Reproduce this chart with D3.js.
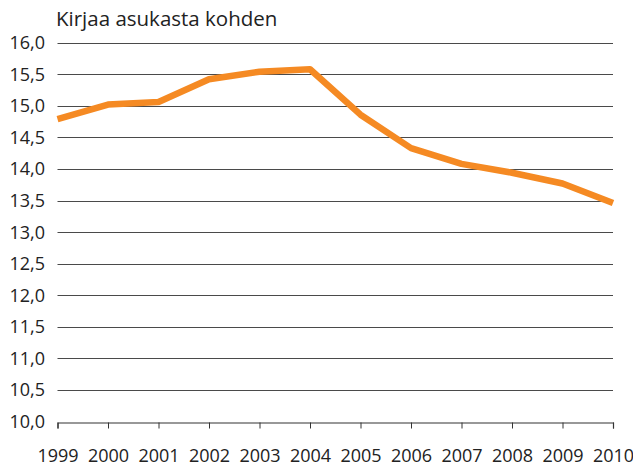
<!doctype html>
<html>
<head>
<meta charset="UTF-8">
<title>Kirjaa asukasta kohden</title>
<script src="https://d3js.org/d3.v7.min.js"></script>
<style>
  body { margin: 0; background: #fff; }
  text { font-family: "Open Sans", "Noto Sans", sans-serif; fill: #222; }
</style>
</head>
<body>
<svg id="chart" width="633" height="469"></svg>
<script>
var years = [1999, 2000, 2001, 2002, 2003, 2004, 2005, 2006, 2007, 2008, 2009, 2010];
var values = [14.79, 15.02, 15.06, 15.42, 15.54, 15.58, 14.86, 14.33, 14.08, 13.94, 13.77, 13.46];
var yTicks = [10, 10.5, 11, 11.5, 12, 12.5, 13, 13.5, 14, 14.5, 15, 15.5, 16];
var title = "Kirjaa asukasta kohden";

var svg = d3.select("#chart");
var x = d3.scaleLinear().domain([1999, 2010]).range([57.5, 613]);
var y = d3.scaleLinear().domain([10, 16]).range([421.5, 42.7]);
var fmt = function (d) { return d3.format(".1f")(d).replace(".", ","); };

// gridlines
svg.append("g").selectAll("line")
    .data(yTicks.slice(1))
    .enter().append("line")
    .attr("x1", x(1999)).attr("x2", x(2010))
    .attr("y1", function (d) { return Math.round(y(d)) + 0.5; })
    .attr("y2", function (d) { return Math.round(y(d)) + 0.5; })
    .attr("stroke", "#4a4a4a").attr("stroke-width", 1.2);

// y labels
svg.append("g").selectAll("text")
    .data(yTicks)
    .enter().append("text")
    .attr("x", 45).attr("y", function (d) { return y(d); })
    .attr("dy", "0.36em")
    .attr("text-anchor", "end")
    .style("font-size", "18px")
    .text(fmt);

// x axis
var xAxis = d3.axisBottom(x).tickValues(years).tickFormat(d3.format("d")).tickSize(6).tickPadding(21);
var gx = svg.append("g").attr("transform", "translate(0," + (Math.round(y(10)) + 0.5) + ")").call(xAxis);
gx.select(".domain").attr("stroke", "#333").attr("stroke-width", 1.2);
gx.selectAll(".tick line").attr("stroke", "#333");
gx.selectAll(".tick text").style("font-size", "18px").style("font-family", "'Open Sans', 'Noto Sans', sans-serif").attr("fill", "#222");

// title
svg.append("text").attr("x", 56).attr("y", 26).style("font-size", "20.5px").text(title);

// line
var line = d3.line().x(function (d, i) { return x(years[i]); }).y(function (d) { return y(d); });
svg.append("path")
    .datum(values)
    .attr("d", line)
    .attr("fill", "none")
    .attr("stroke", "#f58a23")
    .attr("stroke-width", 6.5)
    .attr("stroke-linejoin", "round");
</script>
</body>
</html>
